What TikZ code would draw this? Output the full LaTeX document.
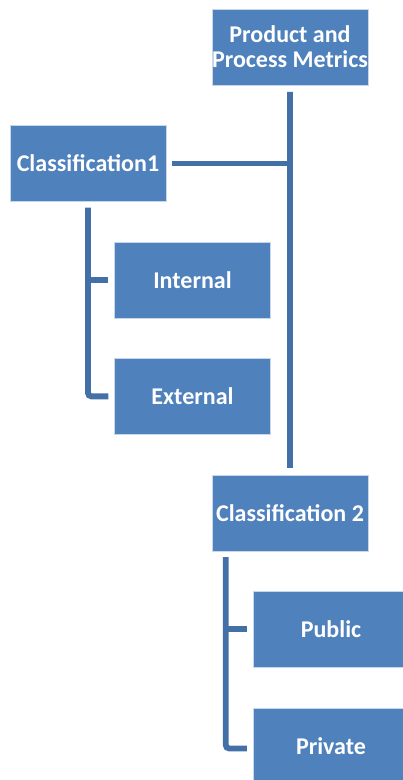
\documentclass[tikz,border=0pt]{standalone}
\usepackage{fontspec}
\setmainfont{Carlito}
\usetikzlibrary{positioning}
\definecolor{BoxBlue}{HTML}{4F81BD}
\definecolor{Edge}{HTML}{C9D7EA}
\definecolor{Branch}{HTML}{4370A6}
\tikzset{
  metricbox/.style={draw=Edge,line width=0.4pt,fill=BoxBlue,minimum width=4.68cm,minimum height=2.28cm,align=center,font=\fontsize{20.5}{21.5}\selectfont\bfseries,text=white,inner sep=0pt},
  trunk/.style={draw=Branch,line width=5pt},
  stem/.style={draw=Branch,line width=5pt,rounded corners=3pt}
}

\begin{document}
\begin{tikzpicture}[node distance=1.2cm]
  \clip (0,0) rectangle (12.09,-23.4);
  \node[metricbox] (root) at (8.7,-1.41) {Product and\\Process Metrics};
  \node[metricbox,below=of root,xshift=-6.06cm] (class1) {Classification1};
  \node[metricbox,below=of class1,xshift=3.135cm] (internal) {Internal};
  \node[metricbox,below=of internal] (external) {External};
  \node[metricbox,below=of external,xshift=2.925cm] (class2) {Classification 2};
  \node[metricbox,below=of class2,xshift=1.23cm] (public) {Public};
  \node[metricbox,below=of public] (private) {Private};
  % main trunk
  \draw[trunk] ([yshift=-0.2cm]root.south) -- ([yshift=0.2cm]class2.north);
  \draw[trunk] ([xshift=0.18cm]class1.east) -- (class1.east -| root.south);
  % first group
  \draw[stem] ([yshift=-0.18cm]class1.south) |- ([xshift=-0.18cm]external.west);
  \draw[trunk] (class1.south |- internal.west) -- ([xshift=-0.18cm]internal.west);
  % second group
  \coordinate (c2stem) at ([xshift=0.42cm,yshift=-0.18cm]class2.south west);
  \draw[stem] (c2stem) |- ([xshift=-0.18cm,yshift=-0.08cm]private.west);
  \draw[trunk] (c2stem |- public.west) -- ([xshift=-0.18cm]public.west);
\end{tikzpicture}
\end{document}
